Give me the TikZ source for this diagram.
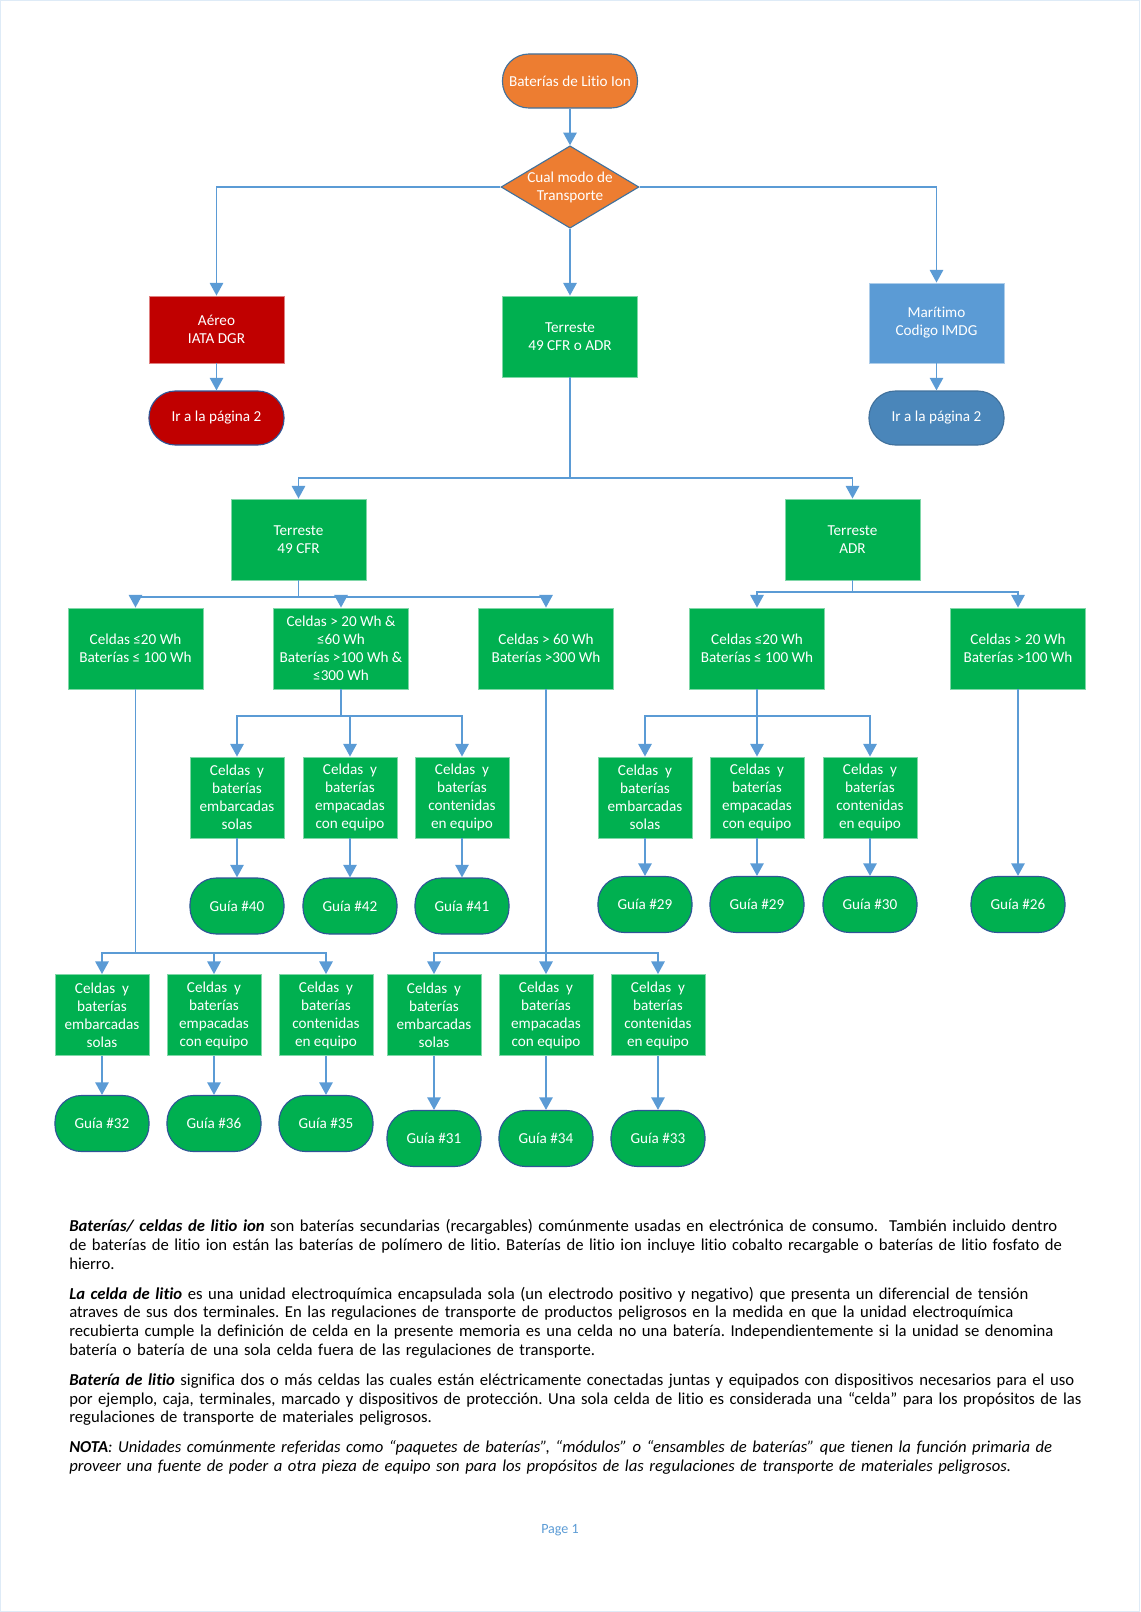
\documentclass[tikz,border=0pt]{standalone}
\usepackage{fontspec}
\setmainfont{Carlito}[Ligatures=NoCommon]
\usetikzlibrary{shapes.geometric,arrows.meta}
\definecolor{naranja}{HTML}{ED7D31}
\definecolor{rojo}{HTML}{C00000}
\definecolor{verde}{HTML}{00B050}
\definecolor{azul}{HTML}{5B9BD5}
\definecolor{azulosc}{HTML}{4A86BA}
\definecolor{borde}{HTML}{41719C}
\definecolor{bordeguia}{HTML}{2F5597}
\tikzstyle{every picture}+=[x=0.025cm, y=-0.025cm]
\tikzstyle{texto}=[text=white, align=center, font=\fontsize{10.8}{12.8}\selectfont]
\tikzstyle{caja}=[texto, rectangle, fill=verde, draw=verde!50!white, line width=0.6pt, minimum width=3.375cm, minimum height=2.025cm, inner sep=1pt]
\tikzstyle{cajita}=[caja, minimum width=2.35cm]
\tikzstyle{inicio}=[texto, rectangle, rounded corners=0.66cm, draw=borde, line width=0.8pt, minimum width=3.375cm, minimum height=1.35cm]
\tikzstyle{guia}=[inicio, fill=verde, draw=bordeguia, minimum width=2.35cm, minimum height=1.4cm]
\tikzstyle{decision}=[texto, diamond, fill=naranja, draw=borde, line width=0.8pt, aspect=1.675, inner xsep=-0.6pt, inner ysep=0.5pt]
\tikzstyle{tramo}=[draw=azul, line width=1.3pt]
\tikzstyle{flecha}=[tramo, -{Triangle[length=9pt,width=9.5pt]}]

\begin{document}
\frenchspacing
\begin{tikzpicture}
		\useasboundingbox (0, 0) rectangle (1140, 1612);
		\draw[color=azul!20, line width=0.8pt] (0.5, 0.5) rectangle (1139.5, 1611.5);
		\node(bateria)[inicio, fill=naranja] at (570, 81) {Baterías de Litio Ion};
		\node(modo)[decision] at (570, 187) {Cual modo de\\Transporte};
		\node(aereo)[caja, fill=rojo, draw=rojo!50!white, minimum height=1.675cm] at (216.5, 329.5) {Aéreo\\IATA DGR};
		\node(terrestre)[caja] at (570, 336.5) {Terreste\\49 CFR o ADR};
		\node(maritimo)[caja, fill=azul, draw=azul!50!white, minimum height=2cm] at (936.5, 323) {Marítimo\\Codigo IMDG};
		\node(iraereo)[inicio, fill=rojo, draw=bordeguia] at (216.5, 418) {Ir a la página 2};
		\node(irmaritimo)[inicio, fill=azulosc, draw=borde] at (936.5, 418) {Ir a la página 2};
		\coordinate(bus) at (570, 478);
		\node(cfr)[caja] at (298.5, 539.5) {Terreste\\49 CFR};
		\node(adr)[caja] at (852.5, 539.5) {Terreste\\ADR};
		\coordinate(buscfr) at (298.5, 597);
		\coordinate(busadr) at (852.5, 592);
		\node(cfrA)[caja] at (135.5, 648.5) {Celdas ≤20 Wh\\Baterías ≤ 100 Wh};
		\node(cfrB)[caja] at (341, 648.5) {Celdas > 20 Wh \&\\≤60 Wh\\Baterías >100 Wh \&\\≤300 Wh};
		\node(cfrC)[caja] at (546, 648.5) {Celdas > 60 Wh\\Baterías >300 Wh};
		\node(adrA)[caja] at (757, 648.5) {Celdas ≤20 Wh\\Baterías ≤ 100 Wh};
		\node(adrB)[caja] at (1018, 648.5) {Celdas > 20 Wh\\Baterías >100 Wh};
		\coordinate(busB) at (341, 716);
		\coordinate(busadrA) at (757, 716);
		\node(cfrBsolas)[cajita] at (237, 797.5) {Celdas~~y\\baterías\\embarcadas\\solas};
		\node(cfrBempac)[cajita] at (350, 797.5) {Celdas~~y\\baterías\\empacadas\\con equipo};
		\node(cfrBconte)[cajita] at (462, 797.5) {Celdas~~y\\baterías\\contenidas\\en equipo};
		\node(adrAsolas)[cajita] at (645, 797.5) {Celdas~~y\\baterías\\embarcadas\\solas};
		\node(adrAempac)[cajita] at (757, 797.5) {Celdas~~y\\baterías\\empacadas\\con equipo};
		\node(adrAconte)[cajita] at (870, 797.5) {Celdas~~y\\baterías\\contenidas\\en equipo};
		\node(guia40)[guia] at (237, 906) {Guía \#40};
		\node(guia42)[guia] at (350, 906) {Guía \#42};
		\node(guia41)[guia] at (462, 906) {Guía \#41};
		\node(guia29a)[guia] at (645, 904.5) {Guía \#29};
		\node(guia29b)[guia] at (757, 904.5) {Guía \#29};
		\node(guia30)[guia] at (870, 904.5) {Guía \#30};
		\node(guia26)[guia] at (1018, 904.5) {Guía \#26};
		\coordinate(busA) at (135.5, 953);
		\coordinate(busC) at (546, 953);
		\node(cfrAsolas)[cajita] at (102, 1015) {Celdas~~y\\baterías\\embarcadas\\solas};
		\node(cfrAempac)[cajita] at (214, 1015) {Celdas~~y\\baterías\\empacadas\\con equipo};
		\node(cfrAconte)[cajita] at (326, 1015) {Celdas~~y\\baterías\\contenidas\\en equipo};
		\node(cfrCsolas)[cajita] at (434, 1015) {Celdas~~y\\baterías\\embarcadas\\solas};
		\node(cfrCempac)[cajita] at (546, 1015) {Celdas~~y\\baterías\\empacadas\\con equipo};
		\node(cfrCconte)[cajita] at (658, 1015) {Celdas~~y\\baterías\\contenidas\\en equipo};
		\node(guia32)[guia] at (102, 1123.5) {Guía \#32};
		\node(guia36)[guia] at (214, 1123.5) {Guía \#36};
		\node(guia35)[guia] at (326, 1123.5) {Guía \#35};
		\node(guia31)[guia] at (434, 1138.5) {Guía \#31};
		\node(guia34)[guia] at (546, 1138.5) {Guía \#34};
		\node(guia33)[guia] at (658, 1138.5) {Guía \#33};
		\draw[flecha] (bateria) -- (modo);
		\draw[flecha] (modo.west) -| (aereo.north);
		\draw[flecha] (modo) -- (terrestre);
		\draw[flecha] (modo.east) -| (maritimo.north);
		\draw[flecha] (aereo) -- (iraereo);
		\draw[flecha] (maritimo) -- (irmaritimo);
		\draw[tramo] (terrestre) -- (bus);
		\draw[flecha] (bus) -| (cfr.north);
		\draw[flecha] (bus) -| (adr.north);
		\draw[tramo] (cfr) -- (buscfr);
		\draw[flecha] (buscfr) -| (cfrA.north);
		\draw[flecha] (buscfr) -| (cfrB.north);
		\draw[flecha] (buscfr) -| (cfrC.north);
		\draw[tramo] (adr) -- (busadr);
		\draw[flecha] (busadr) -| (adrA.north);
		\draw[flecha] (busadr) -| (adrB.north);
		\draw[tramo] (cfrB) -- (busB);
		\draw[flecha] (busB) -| (cfrBsolas.north);
		\draw[flecha] (busB) -| (cfrBempac.north);
		\draw[flecha] (busB) -| (cfrBconte.north);
		\draw[tramo] (adrA) -- (busadrA);
		\draw[flecha] (busadrA) -| (adrAsolas.north);
		\draw[flecha] (busadrA) -| (adrAempac.north);
		\draw[flecha] (busadrA) -| (adrAconte.north);
		\draw[flecha] (cfrBsolas) -- (guia40);
		\draw[flecha] (cfrBempac) -- (guia42);
		\draw[flecha] (cfrBconte) -- (guia41);
		\draw[flecha] (adrAsolas) -- (guia29a);
		\draw[flecha] (adrAempac) -- (guia29b);
		\draw[flecha] (adrAconte) -- (guia30);
		\draw[flecha] (adrB) -- (guia26);
		\draw[tramo] (cfrA) -- (busA);
		\draw[flecha] (busA) -| (cfrAsolas.north);
		\draw[flecha] (busA) -| (cfrAempac.north);
		\draw[flecha] (busA) -| (cfrAconte.north);
		\draw[tramo] (cfrC) -- (busC);
		\draw[flecha] (busC) -| (cfrCsolas.north);
		\draw[flecha] (busC) -| (cfrCempac.north);
		\draw[flecha] (busC) -| (cfrCconte.north);
		\draw[flecha] (cfrAsolas) -- (guia32);
		\draw[flecha] (cfrAempac) -- (guia36);
		\draw[flecha] (cfrAconte) -- (guia35);
		\draw[flecha] (cfrCsolas) -- (guia31);
		\draw[flecha] (cfrCempac) -- (guia34);
		\draw[flecha] (cfrCconte) -- (guia33);
		\node(definiciones)[anchor=base west, inner sep=0pt, text width=26.8cm, align=left, font=\fontsize{11.85}{13.35}\selectfont] at (69, 1231.5) {\textbf{\textit{Baterías/ celdas de litio ion}} son baterías secundarias (recargables) comúnmente usadas en electrónica de consumo.~ También incluido dentro\\
de baterías de litio ion están las baterías de polímero de litio. Baterías de litio ion incluye litio cobalto recargable o baterías de litio fosfato de\\
hierro.\\[8pt]
\textbf{\textit{La celda de litio}} es una unidad electroquímica encapsulada sola (un electrodo positivo y negativo) que presenta un diferencial de tensión\\
atraves de sus dos terminales. En las regulaciones de transporte de productos peligrosos en la medida en que la unidad electroquímica\\
recubierta cumple la definición de celda en la presente memoria es una celda no una batería. Independientemente si la unidad se denomina\\
batería o batería de una sola celda fuera de las regulaciones de transporte.\\[8pt]
\textbf{\textit{Batería de litio}} significa dos o más celdas las cuales están eléctricamente conectadas juntas y equipados con dispositivos necesarios para el uso\\
por ejemplo, caja, terminales, marcado y dispositivos de protección. Una sola celda de litio es considerada una “celda” para los propósitos de las\\
regulaciones de transporte de materiales peligrosos.\\[8pt]
\textit{\textbf{NOTA}: Unidades comúnmente referidas como “paquetes de baterías”, “módulos” o “ensambles de baterías” que tienen la función primaria de}\\
\textit{proveer una fuente de poder a otra pieza de equipo son para los propósitos de las regulaciones de transporte de materiales peligrosos.}};
		\node(pagina)[text=azul, font=\fontsize{10}{12}\selectfont] at (560, 1530) {Page 1};
\end{tikzpicture}
\end{document}
